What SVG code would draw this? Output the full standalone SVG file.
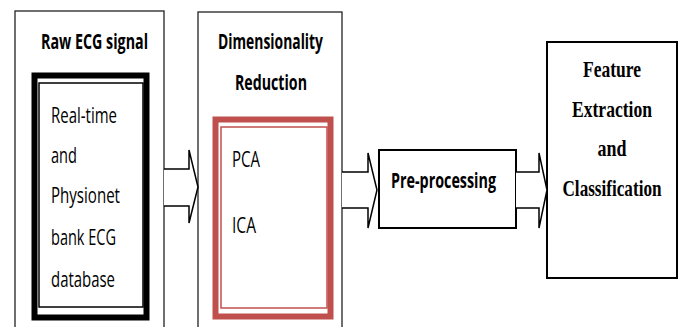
<svg xmlns="http://www.w3.org/2000/svg" width="681" height="327" viewBox="0 0 681 327">
<style>
.frame{fill:#fff;stroke:#222;stroke-width:1.3}
.box{fill:#fff;stroke:#000;stroke-width:2}
.sans{font-family:"Open Sans","Noto Sans","Liberation Sans",sans-serif;fill:#000}
.bold{font-weight:bold}
.serif{font-family:"Liberation Serif","Times New Roman",serif;font-weight:bold;fill:#000}
.arrow{fill:#fff;stroke:#000;stroke-width:1.5;stroke-linejoin:miter}
</style>
<rect width="681" height="327" fill="#fff"/>
<g id="raw-ecg">
  <rect class="frame" x="15" y="11" width="149" height="330"/>
  <text class="sans bold" x="41" y="49" font-size="21" textLength="107" lengthAdjust="spacingAndGlyphs">Raw ECG signal</text>
  <rect x="34.5" y="75.5" width="112" height="242" fill="#fff" stroke="#000" stroke-width="6"/>
  <rect x="39" y="83" width="104" height="224" fill="none" stroke="#000" stroke-width="1.5"/>
  <g class="sans" font-size="22">
    <text x="51" y="123" textLength="66" lengthAdjust="spacingAndGlyphs">Real-time</text>
    <text x="51" y="163" textLength="26" lengthAdjust="spacingAndGlyphs">and</text>
    <text x="51" y="203" textLength="69" lengthAdjust="spacingAndGlyphs">Physionet</text>
    <text x="51" y="245" textLength="65" lengthAdjust="spacingAndGlyphs">bank ECG</text>
    <text x="51" y="287" textLength="64" lengthAdjust="spacingAndGlyphs">database</text>
  </g>
</g>
<g id="dim-reduction">
  <rect class="frame" x="198" y="12" width="144" height="330"/>
  <text class="sans bold" x="218" y="49" font-size="21" textLength="105" lengthAdjust="spacingAndGlyphs">Dimensionality</text>
  <text class="sans bold" x="235" y="90" font-size="21" textLength="72" lengthAdjust="spacingAndGlyphs">Reduction</text>
  <rect x="215.5" y="119.5" width="115" height="197" fill="#fff" stroke="#c0504d" stroke-width="6"/>
  <rect x="221" y="127" width="106" height="181" fill="none" stroke="#c0504d" stroke-width="1.5"/>
  <text class="sans" x="232" y="167" font-size="22" textLength="28" lengthAdjust="spacingAndGlyphs">PCA</text>
  <text class="sans" x="232" y="233" font-size="22" textLength="24" lengthAdjust="spacingAndGlyphs">ICA</text>
</g>
<g id="pre-processing">
  <rect class="box" x="379" y="150" width="137" height="78"/>
  <text class="sans bold" x="391" y="188" font-size="21" textLength="105" lengthAdjust="spacingAndGlyphs">Pre-processing</text>
</g>
<g id="feature-classification">
  <rect class="box" x="547" y="42" width="130" height="236"/>
  <g class="serif" font-size="24" text-anchor="middle">
    <text x="612" y="77" textLength="58" lengthAdjust="spacingAndGlyphs">Feature</text>
    <text x="612" y="117" textLength="80" lengthAdjust="spacingAndGlyphs">Extraction</text>
    <text x="612" y="156" textLength="29" lengthAdjust="spacingAndGlyphs">and</text>
    <text x="612" y="196" textLength="99" lengthAdjust="spacingAndGlyphs">Classification</text>
  </g>
</g>
<g id="connectors">
  <path class="arrow" d="M164,169 H189 V150 L198,187 L189,223 V206 H164"/>
  <path class="arrow" d="M342,172 H368 V153 L377,190 L368,228 V208 H342"/>
  <path class="arrow" d="M516,172 H539 V153 L547,190 L539,228 V208 H516"/>
</g>
</svg>
